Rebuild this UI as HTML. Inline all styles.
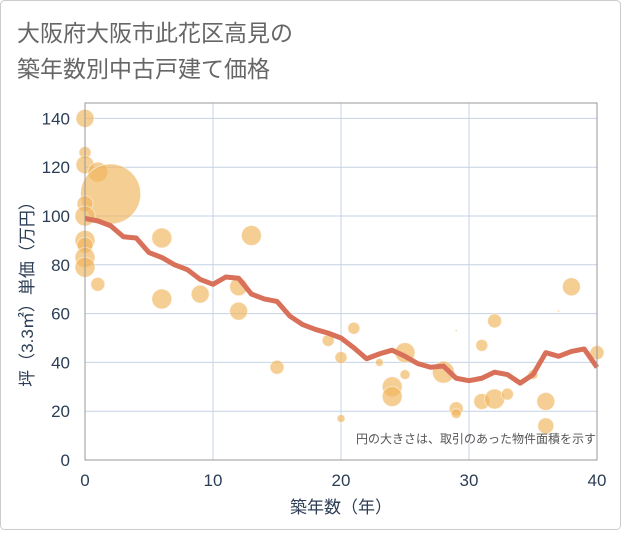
<!DOCTYPE html>
<html><head><meta charset="utf-8"><style>
body{margin:0;background:#fff;}
svg text{font-family:"Liberation Sans","Noto Sans CJK JP",sans-serif;}
</style></head><body>
<svg width="621" height="530" xmlns="http://www.w3.org/2000/svg">
<rect x="0.5" y="0.5" width="620" height="529" rx="4" fill="#fff" stroke="#ccc"/>
<text x="17" y="41" font-size="23" fill="#666">大阪府大阪市此花区高見の</text>
<text x="17" y="77" font-size="23" fill="#666">築年数別中古戸建て価格</text>
<g id="grid"></g>
<g id="bubbles"></g>
<path id="line" fill="none" stroke="#d9705a" stroke-width="5" stroke-linejoin="round"/>
<rect x="85" y="103" width="512" height="357" fill="none" stroke="#999"/>
<g id="axes"></g>
<text x="596" y="443" font-size="12" fill="#555" text-anchor="end">円の大きさは、取引のあった物件面積を示す</text>
<text x="341" y="513" font-size="17" fill="#2c3e55" text-anchor="middle">築年数（年）</text>
<text transform="translate(33,290) rotate(-90)" font-size="17" fill="#2c3e55" text-anchor="middle">坪（3.3㎡）単価（万円）</text>
</svg>
<script>
const xTicks=[0,10,20,30,40];
const yTicks=[0,20,40,60,80,100,120,140];
const lineYears=[0,1,2,3,4,5,6,7,8,9,10,11,12,13,14,15,16,17,18,19,20,21,22,23,24,25,26,27,28,29,30,31,32,33,34,35,36,37,38,39,40];
const lineValues=[99,98,96,91.5,91,85,83,80,78,74,72,75,74.5,68,66,65,59,55.5,53.5,52,50,46,41.5,43.5,45,42.5,39.5,38,38.5,33.5,32.5,33.5,36,35,31.5,35,44,42.5,44.5,45.5,38];
const bubbleX=[0,0,0,1,2,0,0,0,0,0,0,1,6,6,9,12,12,13,15,19,20,20,21,23,24,24,25,25,28,29,29,29,31,31,32,32,33,35,36,36,37,38,40];
const bubbleY=[140,126,121,118,109,105,100,90,88,83,79,72,91,66,68,71,61,92,38,49,42,17,54,40,30,26,44,35,36,21,19,53,47,24,57,25,27,35,24,14,61,71,44];
const bubbleR=[9,6,9,10,30,8,10,10,8,10,10,7,10,10,9,9,9,10,7,6,6,4,6,4,10,10,10,5,11,7,5,1,6,8,7,10,6,5,9,8,1,9,7];
const X=v=>85+v*12.8, Y=v=>460-v*2.44;
const ns="http://www.w3.org/2000/svg";
const grid=document.getElementById('grid'),axes=document.getElementById('axes');
xTicks.forEach(t=>{
 const l=document.createElementNS(ns,'line');
 
 
 l.setAttribute('x1',X(t));l.setAttribute('x2',X(t));l.setAttribute('y1',103);l.setAttribute('y2',460);l.setAttribute('stroke','#c5d3e4');
 grid.appendChild(l);
 const tx=document.createElementNS(ns,'text');
 
 
 tx.setAttribute('x',X(t));tx.setAttribute('y',486);tx.setAttribute('font-size','17');tx.setAttribute('fill','#2c3e55');tx.setAttribute('text-anchor','middle');
 tx.textContent=t;axes.appendChild(tx);
});
yTicks.forEach(t=>{
 const l=document.createElementNS(ns,'line');
 
 
 l.setAttribute('x1',85);l.setAttribute('x2',597);l.setAttribute('y1',Y(t));l.setAttribute('y2',Y(t));l.setAttribute('stroke','#c5d3e4');
 grid.appendChild(l);
 const tx=document.createElementNS(ns,'text');
 
 
 tx.setAttribute('x',70);tx.setAttribute('y',Y(t)+6);tx.setAttribute('font-size','17');tx.setAttribute('fill','#2c3e55');tx.setAttribute('text-anchor','end');
 tx.textContent=t;axes.appendChild(tx);
});
const bg=document.getElementById('bubbles');
bubbleX.forEach((x,i)=>{
 const c=document.createElementNS(ns,'circle');
 
 
 c.setAttribute('cx',X(x));c.setAttribute('cy',Y(bubbleY[i]));c.setAttribute('r',bubbleR[i]);
 c.setAttribute('fill','rgba(240,180,90,0.65)');c.setAttribute('stroke','rgba(255,255,255,0.5)');
 bg.appendChild(c);
});
document.getElementById('line').setAttribute('d',lineYears.map((x,i)=>(i?'L':'M')+X(x)+','+Y(lineValues[i])).join(''));
</script>
</body></html>
